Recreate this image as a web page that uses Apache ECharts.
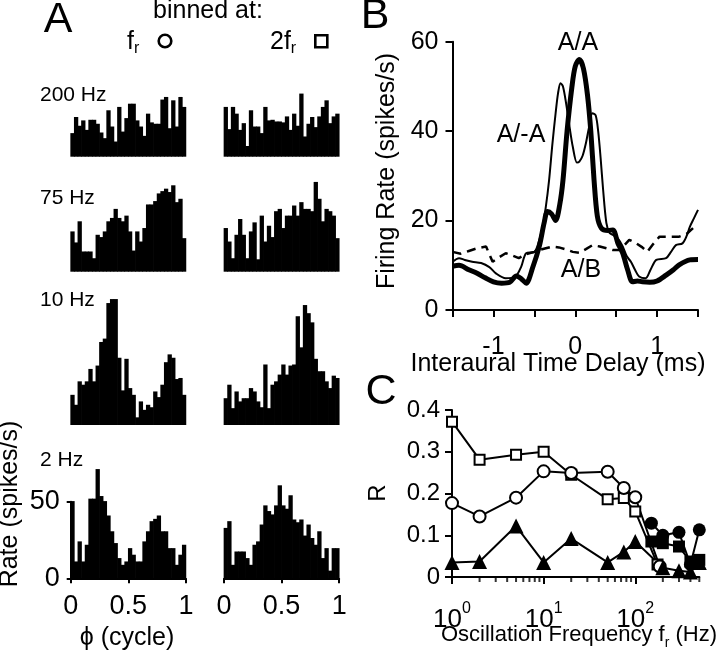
<!DOCTYPE html>
<html><head><meta charset="utf-8">
<script src="https://cdn.jsdelivr.net/npm/echarts@6/dist/echarts.min.js"></script>
<style>html,body{margin:0;padding:0;background:#fff}#c{width:720px;height:665px}</style>
</head><body><div id="c"></div>
<script>
const FONT = 'Liberation Sans';

// ---------- Panel A: phase histograms (32 bins over one cycle) ----------
const phaseBins = Array.from({length: 32}, (_, i) => String(i + 1));
const hist200L = [15.4,25.9,20.2,23.7,17.5,24.1,24.1,21.5,15.8,12.1,30.3,19.7,9.9,32.5,16.4,25.2,34.6,34.6,23.7,19.7,13.6,28.1,22.4,21.5,21.5,37.3,39.0,18.6,36.8,19.7,39.0,32.5];
const hist200R = [32.5,18.0,32.5,28.1,17.5,21.9,7.0,30.3,19.7,19.7,15.4,32.5,23.7,24.1,23.0,23.0,22.4,26.3,17.5,28.1,20.2,41.2,13.2,21.5,25.9,19.3,26.3,32.5,36.8,21.9,26.3,28.1];
const hist75L  = [26.3,19.1,32.9,13.2,13.2,13.2,8.8,24.1,22.6,26.3,32.9,35.1,41.0,35.1,32.9,36.6,26.3,13.8,26.3,19.7,28.5,43.9,43.9,46.1,51.1,52.6,54.2,52.0,56.4,45.4,47.6,21.9];
const hist75R  = [28.5,19.7,8.8,24.1,34.4,24.1,8.8,26.3,32.2,8.1,36.6,19.7,30.0,22.6,39.5,41.0,28.5,36.6,36.6,43.2,36.6,45.4,41.0,41.0,39.5,58.6,47.6,32.9,41.0,39.5,36.6,21.9];
const hist10L  = [19.7,13.2,28.5,26.3,28.5,36.6,28.5,38.8,54.2,56.4,79.6,82.2,82.2,43.9,22.6,43.2,24.1,19.7,5.0,15.4,9.9,13.2,11.6,21.9,18.2,26.3,41.0,46.1,43.9,30.0,30.7,19.7];
const hist10R  = [17.5,26.3,11.0,21.9,15.4,17.5,17.5,24.1,21.9,15.4,11.6,39.5,11.0,26.3,28.5,32.9,39.5,32.9,38.8,39.5,71.0,50.7,78.3,73.0,67.0,43.2,35.1,35.1,28.5,24.1,32.2,30.7];
const hist2L   = [50.4,11.0,24.1,11.0,21.9,52.0,52.0,71.3,53.7,50.4,41.0,30.7,23.0,13.2,8.8,11.0,19.7,15.4,11.0,11.0,24.1,30.7,37.3,38.8,41.0,30.7,30.7,19.7,19.7,8.8,15.4,21.9];
const hist2R   = [32.9,37.3,8.8,17.5,17.5,17.5,13.2,8.8,21.9,24.1,35.1,47.6,43.9,41.7,47.6,60.7,47.6,45.4,54.2,38.4,36.6,38.4,27.9,35.1,26.3,21.9,30.7,13.2,19.7,5.0,19.7,19.7];
const rowLabels = ['200 Hz', '75 Hz', '10 Hz', '2 Hz'];
const phaseTicks = [0, 0.5, 1];

// ---------- Panel B: firing rate vs ITD ----------
const itdAA  = [-1.5,-1.42,-1.3,-1.2,-1.1,-1.0,-0.9,-0.8,-0.72,-0.66,-0.6,-0.52,-0.44,-0.38,-0.34,-0.29,-0.24,-0.19,-0.15,-0.1,-0.04,0,0.05,0.1,0.15,0.19,0.23,0.27,0.32,0.4,0.46,0.52,0.58,0.64,0.7,0.76,0.82,0.91,1.0,1.11,1.2,1.27,1.4,1.5];
const rateAA = [9.8,10.0,9.0,8.2,7.2,6.3,6.0,6.2,7.6,7.0,6.0,9.5,14.2,19.5,22.0,21.5,20.0,23.5,29.0,40.0,50.0,54.5,56.0,54.0,48.0,40.0,29.0,21.0,18.3,17.8,17.9,15.0,12.7,9.0,6.3,6.5,6.3,6.2,6.5,7.8,9.0,10.1,11.2,11.3];
const itdAnti  = [-1.5,-1.42,-1.35,-1.26,-1.15,-1.05,-0.97,-0.85,-0.73,-0.66,-0.6,-0.5,-0.45,-0.4,-0.36,-0.32,-0.28,-0.24,-0.21,-0.18,-0.15,-0.11,-0.07,-0.03,0.02,0.05,0.09,0.13,0.17,0.21,0.25,0.28,0.31,0.34,0.38,0.42,0.46,0.52,0.58,0.63,0.68,0.73,0.78,0.86,0.92,0.99,1.11,1.17,1.23,1.31,1.36,1.4,1.45,1.5];
const rateAnti = [10.8,11.6,11.2,10.8,10.5,9.6,8.2,7.1,7.5,9.7,12.7,13.0,15.0,18.6,23.0,29.0,37.0,44.0,48.5,50.7,50.0,46.0,41.0,36.5,33.0,33.2,34.5,37.3,41.0,44.0,43.5,40.0,34.0,27.0,19.5,17.2,16.8,16.0,14.2,12.0,10.8,9.0,7.5,7.1,9.0,11.2,11.6,13.0,14.5,14.9,16.5,18.6,20.5,22.4];
const itdAB  = [-1.5,-1.4,-1.3,-1.2,-1.09,-1.01,-0.93,-0.85,-0.77,-0.69,-0.6,-0.5,-0.42,-0.36,-0.28,-0.2,-0.12,-0.03,0.05,0.13,0.21,0.3,0.38,0.46,0.54,0.6,0.66,0.74,0.82,0.88,0.95,1.03,1.15,1.27,1.36,1.44,1.5];
const rateAB = [13.0,12.6,13.2,13.8,14.2,10.8,11.8,12.7,12.2,11.6,12.5,13.0,13.5,13.8,14.2,14.0,13.6,13.0,12.8,13.6,14.5,14.2,13.8,13.4,13.4,14.5,15.7,15.0,14.0,13.0,14.7,16.4,16.4,16.4,17.0,18.3,17.9];

// ---------- Panel C: R vs oscillation frequency ----------
const freqCircle = [1,2,5,10,20,50,75,100,185];
const rCircle    = [0.177,0.145,0.19,0.253,0.249,0.252,0.213,0.191,0.025];
const freqSquare = [1,2,5,10,20,50,75,100,175];
const rSquare    = [0.372,0.281,0.293,0.300,0.245,0.186,0.189,0.157,0.03];
const freqTri    = [1,2,5,10,20,50,75,100,200,300,400,500];
const rTri       = [0.035,0.037,0.122,0.035,0.092,0.035,0.06,0.085,0.022,0.015,0.012,0.035];
const freqHigh   = [150,200,300,400,500];
const rCircleFilled = [0.129,0.1,0.107,0.03,0.113];
const rSquareFilled = [0.085,0.081,0.073,0.037,0.041];
const logMinorTicks = [2,3,4,5,6,7,8,9,20,30,40,50,60,70,80,90,200,300,400,500];

const zip = (a, b) => a.map((v, i) => [v, b[i]]);
const BLACK = '#000';
const axLine = {show: true, onZero: false, lineStyle: {color: BLACK, width: 2}};

// histogram grids (px)
const histH = 76.6;
const rowBottoms = [156.7, 271.7, 425, 578.3];
const colLefts = [70.7, 224];
const colW = 115.2;
const hists = [hist200L, hist200R, hist75L, hist75R, hist10L, hist10R, hist2L, hist2R];

// histogram bin drawn through the axes' own scales; slight overlap avoids anti-alias seams
function histRender(params, api) {
  const idx = api.value(0), v = api.value(1);
  const top = api.coord([idx, v]);
  const base = api.coord([idx, 0]);
  const w = api.size([1, 0])[0];
  return {type: 'rect', shape: {x: top[0] - w / 2 - 0.35, y: top[1], width: w + 0.7, height: base[1] - top[1]},
    style: {fill: BLACK}};
}

const grids = [], xAxes = [], yAxes = [], series = [];
hists.forEach((d, i) => {
  const row = Math.floor(i / 2), col = i % 2;
  grids.push({left: colLefts[col], top: rowBottoms[row] - histH, width: colW, height: histH});
  xAxes.push({type: 'category', gridIndex: i, data: phaseBins, show: false, boundaryGap: true});
  const isAxis = (i === 6);
  yAxes.push({type: 'value', gridIndex: i, min: 0, max: 50, interval: 50, show: isAxis,
    axisLine: axLine, axisTick: {show: true, length: 4, lineStyle: {color: BLACK, width: 2}},
    axisLabel: {color: BLACK, fontSize: 27, fontFamily: FONT, margin: 11},
    splitLine: {show: false}});
  series.push({type: 'custom', xAxisIndex: i, yAxisIndex: i, data: d.map((v, k) => [k, v]),
    renderItem: histRender, clip: false, silent: true, z: 1});
});
// phase value axes under the bottom row
[6, 7].forEach(g => {
  xAxes.push({type: 'value', gridIndex: g, min: phaseTicks[0], max: phaseTicks[2], interval: phaseTicks[1],
    position: 'bottom', axisLine: axLine,
    axisTick: {show: true, length: 5, lineStyle: {color: BLACK, width: 2}},
    axisLabel: {color: BLACK, fontSize: 27, fontFamily: FONT, margin: 15},
    splitLine: {show: false}, z: 3});
});
// Panel B grid (index 8)
grids.push({left: 452.5, top: 41.7, width: 245.5, height: 268.3});
xAxes.push({type: 'value', gridIndex: 8, min: -1.5, max: 1.5, interval: 0.5,
  axisLine: axLine, axisTick: {show: true, length: 7, lineStyle: {color: BLACK, width: 2}},
  axisLabel: {color: BLACK, fontSize: 25, fontFamily: FONT, margin: 25, showMinLabel: true, showMaxLabel: true,
    formatter: v => (Math.abs(v - Math.round(v)) < 1e-9 ? String(Math.round(v)) : '')},
  splitLine: {show: false}});
yAxes.push({type: 'value', gridIndex: 8, min: 0, max: 60, interval: 20,
  axisLine: axLine, axisTick: {show: true, length: 7, lineStyle: {color: BLACK, width: 2}},
  axisLabel: {color: BLACK, fontSize: 25, fontFamily: FONT, margin: 14},
  splitLine: {show: false}});
// Panel C grid (index 9)
grids.push({left: 452, top: 410, width: 247.3, height: 167});
xAxes.push({type: 'log', logBase: 10, gridIndex: 9, min: 1, max: 500,
  axisLine: axLine, axisTick: {show: true, length: 7, lineStyle: {color: BLACK, width: 2}},
  axisLabel: {color: BLACK, fontFamily: FONT, margin: 24, showMaxLabel: false,
    formatter: v => { const e = Math.round(Math.log10(v)); return Math.abs(Math.pow(10, e) - v) < 1e-6 ? '{b|10}{s|' + e + '}' : ''; },
    rich: {b: {fontSize: 26, lineHeight: 38, fontFamily: FONT, color: BLACK, verticalAlign: 'middle'},
           s: {fontSize: 16, lineHeight: 14, fontFamily: FONT, color: BLACK, verticalAlign: 'top'}}},
  splitLine: {show: false}, minorTick: {show: false}});
yAxes.push({type: 'value', gridIndex: 9, min: 0, max: 0.4, interval: 0.1,
  axisLine: axLine, axisTick: {show: true, length: 7, lineStyle: {color: BLACK, width: 2}},
  axisLabel: {color: BLACK, fontSize: 24, fontFamily: FONT, margin: 12},
  splitLine: {show: false}});

// Panel B series
series.push({type: 'line', xAxisIndex: 10, yAxisIndex: 8, data: zip(itdAB, rateAB), showSymbol: false,
  lineStyle: {color: BLACK, width: 2.5, type: [9, 6]}, silent: true});
series.push({type: 'line', xAxisIndex: 10, yAxisIndex: 8, data: zip(itdAnti, rateAnti), showSymbol: false, smooth: 0.3,
  lineStyle: {color: BLACK, width: 2}, silent: true});
series.push({type: 'line', xAxisIndex: 10, yAxisIndex: 8, data: zip(itdAA, rateAA), showSymbol: false, smooth: 0.3,
  lineStyle: {color: BLACK, width: 5}, silent: true});

// Panel C series
const cLine = {type: 'line', xAxisIndex: 11, yAxisIndex: 9, silent: true, showSymbol: true, showAllSymbol: true,
  lineStyle: {color: BLACK, width: 2}, itemStyle: {color: BLACK, borderColor: BLACK, borderWidth: 2}};
series.push(Object.assign({}, cLine, {data: zip(freqSquare, rSquare), symbol: 'emptyRect', symbolSize: 10}));
series.push(Object.assign({}, cLine, {data: zip(freqCircle, rCircle), symbol: 'emptyCircle', symbolSize: 12}));
series.push(Object.assign({}, cLine, {data: zip(freqTri, rTri), symbol: 'triangle', symbolSize: 15, itemStyle: {color: BLACK}}));
series.push(Object.assign({}, cLine, {data: zip(freqHigh, rSquareFilled), symbol: 'rect', symbolSize: 12, itemStyle: {color: BLACK}}));
series.push(Object.assign({}, cLine, {data: zip(freqHigh, rCircleFilled), symbol: 'circle', symbolSize: 13, itemStyle: {color: BLACK}}));
series.push({type: 'scatter', xAxisIndex: 11, yAxisIndex: 9, silent: true, clip: false,
  data: logMinorTicks.map(f => [f, 0]), symbol: 'rect', symbolSize: [2, 5], symbolOffset: [0, 2.5],
  itemStyle: {color: BLACK}, z: 1});

// ---------- text ----------
function T(text, x, y, size, extra) {
  return Object.assign({type: 'text', x: x, y: y, silent: true,
    style: {text: text, fill: BLACK, font: size + 'px "' + FONT + '"', fontSize: size, fontFamily: FONT,
      align: 'center', verticalAlign: 'middle', textAlign: 'center', textVerticalAlign: 'middle'}}, extra || {});
}
function TL(text, x, y, size) {
  const t = T(text, x, y, size);
  t.style.align = 'left'; t.style.textAlign = 'left';
  return t;
}
function RT(text, x, y, size, align) {
  return {type: 'text', x: x, y: y, silent: true,
    style: {text: text, align: align, textAlign: align, verticalAlign: 'middle', textVerticalAlign: 'middle',
      fontFamily: FONT, fill: BLACK,
      rich: {b: {fontSize: size, lineHeight: 30, fontFamily: FONT, fill: BLACK, color: BLACK},
             s: {fontSize: Math.round(size * 0.64), lineHeight: 16, fontFamily: FONT, fill: BLACK, color: BLACK, verticalAlign: 'bottom'}}}};
}
const ROT = Math.PI / 2;
const graphics = [
  T('A', 58, 20, 43),
  T('B', 375, 16, 43),
  T('C', 381, 392, 43),
  T('binned at:', 208, 11, 25),
  RT('{b|f}{s|r}', 127, 42, 25, 'left'),
  {type: 'circle', shape: {cx: 165, cy: 41, r: 6.3}, style: {fill: '#fff', stroke: BLACK, lineWidth: 2.6}, silent: true},
  RT('{b|2f}{s|r}', 270, 42, 25, 'left'),
  {type: 'rect', shape: {x: 315.3, y: 35.3, width: 12, height: 12}, style: {fill: '#fff', stroke: BLACK, lineWidth: 2.6}, silent: true},
  TL(rowLabels[0], 40, 95.5, 21),
  TL(rowLabels[1], 40, 198.3, 21),
  TL(rowLabels[2], 40, 300, 21),
  TL(rowLabels[3], 40, 460.5, 21),
  T('Rate (spikes/s)', 10, 504, 25, {rotation: ROT}),
  T('\u03D5 (cycle)', 127, 638, 25),
  T('Firing Rate (spikes/s)', 387, 171, 25, {rotation: ROT}),
  T('Interaural Time Delay (ms)', 558, 364, 25),
  T('A/A', 578, 43, 25),
  T('A/-A', 521, 135, 25),
  T('A/B', 581, 270, 25),
  T('R', 378, 493, 24, {rotation: ROT}),
  RT('{b|Oscillation Frequency f}{s|r}{b| (Hz)}', 579, 635, 22, 'center')
];

const chart = echarts.init(document.getElementById('c'), null, {renderer: 'canvas'});
chart.setOption({
  animation: false,
  backgroundColor: '#fff',
  textStyle: {fontFamily: FONT},
  grid: grids,
  xAxis: xAxes,
  yAxis: yAxes,
  series: series,
  graphic: {elements: graphics}
});
</script>
</body></html>
